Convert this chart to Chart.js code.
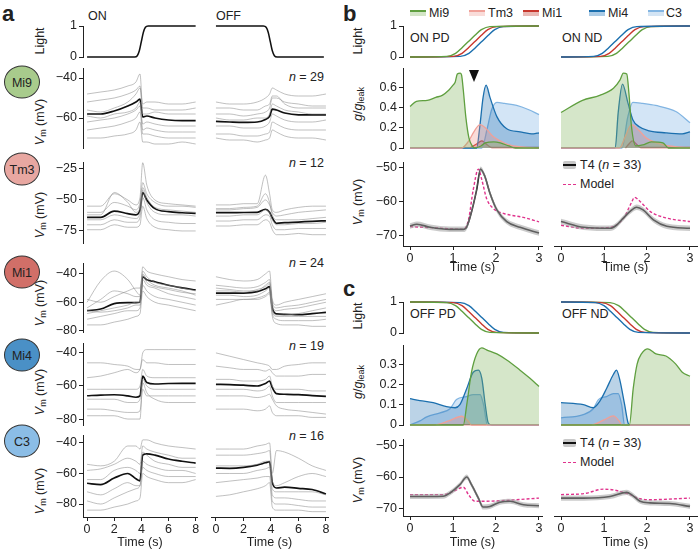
<!DOCTYPE html>
<html lang="en">
<head>
<meta charset="UTF-8" />
<title>T4 inputs</title>
<script src="https://cdn.jsdelivr.net/npm/chart.js"></script>
<style>
  body { margin: 0; background: #fff; font-family: 'Liberation Sans', Arial, sans-serif; color: #222; }
  #fig { position: relative; width: 698px; height: 551px; overflow: hidden; }
  #fig canvas { position: absolute; }
  .t { position: absolute; font-size: 12.5px; white-space: nowrap; transform: translateY(-50%); line-height: 1; }
  .r { transform: translate(-100%, -50%); }
  .rot { position: absolute; font-size: 12.5px; white-space: nowrap; transform: translate(-50%, -50%) rotate(-90deg); line-height: 1; }
  .letter { position: absolute; font-weight: bold; font-size: 22px; line-height: 1; }
  .cell { position: absolute; width: 36px; height: 33px; border: 1px solid #333; border-radius: 50%; box-sizing: border-box;
          display: flex; align-items: center; justify-content: center; font-size: 12.5px; transform: translate(-50%, -50%); }
  sub { font-size: 0.72em; vertical-align: -0.3em; line-height: 0; }
  .patch { position: absolute; width: 16px; height: 6px; box-sizing: border-box; border-top: 2px solid; }
  .band { position: absolute; width: 13px; height: 8px; background: #c8c8c8; border-radius: 2px; }
  .band::after { content: ""; position: absolute; left: 0; right: 0; top: 3px; height: 2px; background: #111; }
  .dash { position: absolute; width: 13px; border-top: 1.5px dashed #e0338d; }
  .arrow { position: absolute; width: 0; height: 0; border-left: 5px solid transparent; border-right: 5px solid transparent; border-top: 12px solid #111; }
</style>
</head>
<body>
<div id="fig">
  <div class="letter" style="left:2px;top:3px">a</div>
  <div class="letter" style="left:343px;top:3px">b</div>
  <div class="letter" style="left:343px;top:278px">c</div>

  <div class="t" style="left:88px;top:16px">ON</div>
  <div class="t" style="left:216px;top:16px">OFF</div>
  <div class="rot" style="left:40px;top:41px">Light</div>

  <div class="cell" style="left:22px;top:82px;background:#a8cb8c">Mi9</div>
  <div class="cell" style="left:22px;top:169px;background:#e8a7a1">Tm3</div>
  <div class="cell" style="left:22px;top:272px;background:#d16f68">Mi1</div>
  <div class="cell" style="left:22px;top:355px;background:#4a90c6">Mi4</div>
  <div class="cell" style="left:22px;top:441px;background:#8bbde6">C3</div>

  <div class="rot" style="left:40px;top:122px"><i>V</i><sub>m</sub> (mV)</div>
  <div class="rot" style="left:40px;top:215px"><i>V</i><sub>m</sub> (mV)</div>
  <div class="rot" style="left:40px;top:303px"><i>V</i><sub>m</sub> (mV)</div>
  <div class="rot" style="left:40px;top:392px"><i>V</i><sub>m</sub> (mV)</div>
  <div class="rot" style="left:40px;top:491px"><i>V</i><sub>m</sub> (mV)</div>

  <div class="t r" style="left:324px;top:77px"><i>n</i> = 29</div>
  <div class="t r" style="left:324px;top:163px"><i>n</i> = 12</div>
  <div class="t r" style="left:324px;top:263px"><i>n</i> = 24</div>
  <div class="t r" style="left:324px;top:346px"><i>n</i> = 19</div>
  <div class="t r" style="left:324px;top:436px"><i>n</i> = 16</div>

  <!-- legend of b/c -->
  <div class="patch" style="left:410px;top:10px;border-color:#5f9f3f;background:#d3e5c6"></div>
  <div class="t" style="left:429px;top:13px">Mi9</div>
  <div class="patch" style="left:469px;top:10px;border-color:#f0a098;background:#f9dcd9"></div>
  <div class="t" style="left:488px;top:13px">Tm3</div>
  <div class="patch" style="left:523px;top:10px;border-color:#c8372d;background:#eab9b4"></div>
  <div class="t" style="left:542px;top:13px">Mi1</div>
  <div class="patch" style="left:589px;top:10px;border-color:#1b6fae;background:#aacbe6"></div>
  <div class="t" style="left:608px;top:13px">Mi4</div>
  <div class="patch" style="left:648px;top:10px;border-color:#82b5e2;background:#d3e4f4"></div>
  <div class="t" style="left:666px;top:13px">C3</div>

  <div class="t" style="left:410px;top:38px">ON PD</div>
  <div class="t" style="left:562px;top:38px">ON ND</div>
  <div class="t" style="left:410px;top:314px">OFF PD</div>
  <div class="t" style="left:562px;top:314px">OFF ND</div>

  <div class="rot" style="left:358px;top:41px">Light</div>
  <div class="rot" style="left:358px;top:104px"><i>g</i>/<i>g</i><sub>leak</sub></div>
  <div class="rot" style="left:358px;top:202px"><i>V</i><sub>m</sub> (mV)</div>
  <div class="rot" style="left:358px;top:316px">Light</div>
  <div class="rot" style="left:358px;top:382px"><i>g</i>/<i>g</i><sub>leak</sub></div>
  <div class="rot" style="left:358px;top:480px"><i>V</i><sub>m</sub> (mV)</div>

  <div class="arrow" style="left:469px;top:70px"></div>

  <div class="band" style="left:563px;top:161px"></div>
  <div class="t" style="left:580px;top:165px">T4 (<i>n</i> = 33)</div>
  <div class="dash" style="left:563px;top:184px"></div>
  <div class="t" style="left:580px;top:184px">Model</div>
  <div class="band" style="left:563px;top:439px"></div>
  <div class="t" style="left:580px;top:443px">T4 (<i>n</i> = 33)</div>
  <div class="dash" style="left:563px;top:462px"></div>
  <div class="t" style="left:580px;top:462px">Model</div>
</div>

<script>
  // ---------- panel a : recordings (time in s, Vm in mV) ----------
  const timeA = [0, 1, 2, 3, 3.6, 3.9, 4.1, 4.4, 5, 6, 7, 8];

  const lightOnT = [0, 3.5, 3.7, 3.85, 4.0, 4.15, 4.3, 4.5, 8];
  const lightOn = [0, 0, 0.04, 0.2, 0.5, 0.8, 0.96, 1, 1];
  const lightOffT = [0, 3.45, 3.65, 3.8, 3.95, 4.1, 4.25, 4.45, 7.85];
  const lightOff = [1, 1, 0.96, 0.8, 0.5, 0.2, 0.04, 0, 0];

  const mi9OnMean = [-58, -58, -56.5, -54, -52, -50.6, -59.5, -59, -60, -61, -61.3, -61.3];
  const mi9OffMean = [-61.7, -62, -62.2, -62, -60.7, -59.2, -55.6, -56, -57.5, -58.4, -58.4, -58.4];
  const mi9OnGray = [
    [-48, -47, -46, -44, -42, -38, -55, -55, -56, -56, -56, -55],
    [-52, -51, -50, -48, -46, -44, -58, -58, -57, -58, -58, -58],
    [-62, -61, -60, -58, -56, -54, -63, -62, -63, -64, -64, -64],
    [-66, -65, -64, -62, -60, -57, -68, -68, -69, -70, -70, -70],
    [-70, -70, -69, -68, -66, -62, -72, -72, -73, -73, -72, -73],
    [-56, -57, -55, -52, -48, -45, -53, -52, -52, -53, -53, -52],
    [-59, -60, -58, -57, -55, -52, -66, -65, -66, -67, -67, -67]
  ];
  const mi9OffGray = [
    [-52, -53, -53, -52, -50, -48, -45, -46, -48, -49, -49, -48],
    [-58, -58, -59, -58, -57, -55, -50, -50, -52, -53, -54, -54],
    [-64, -64, -65, -65, -64, -62, -58, -59, -61, -62, -62, -61],
    [-68, -68, -69, -69, -68, -67, -62, -63, -65, -66, -66, -66],
    [-70, -71, -71, -72, -71, -70, -66, -67, -69, -70, -70, -71],
    [-55, -55, -56, -56, -54, -53, -49, -49, -53, -55, -55, -55],
    [-60, -61, -61, -60, -60, -58, -53, -54, -56, -57, -58, -58]
  ];

  const tm3OnMean = [-64, -64, -59, -61, -62, -58, -44, -50, -57, -59.4, -60.3, -60.8];
  const tm3OffMean = [-60.2, -60.2, -60.1, -60, -57.5, -60, -64.5, -68.8, -68.3, -67.8, -67.2, -66.8];
  const tm3OnGray = [
    [-55, -55, -45, -50, -54, -48, -20, -38, -50, -53, -54, -55],
    [-60, -60, -52, -55, -58, -52, -36, -45, -52, -55, -55, -56],
    [-66, -66, -62, -64, -65, -60, -42, -52, -60, -62, -62, -63],
    [-70, -70, -66, -68, -68, -64, -48, -58, -66, -68, -69, -69],
    [-74, -74, -70, -72, -72, -70, -55, -65, -72, -74, -75, -75],
    [-62, -62, -44, -52, -60, -56, -40, -48, -56, -58, -59, -60]
  ];
  const tm3OffGray = [
    [-54, -54, -53, -53, -30, -45, -58, -60, -58, -56, -55, -55],
    [-58, -58, -57, -56, -50, -54, -60, -63, -62, -60, -59, -58],
    [-63, -63, -62, -62, -58, -60, -66, -70, -70, -69, -69, -68],
    [-67, -67, -66, -66, -62, -63, -70, -74, -74, -73, -73, -73],
    [-71, -71, -70, -70, -66, -68, -74, -78, -78, -77, -78, -78],
    [-57, -57, -56, -55, -45, -52, -62, -66, -66, -66, -65, -64]
  ];

  const mi1OnMean = [-65.9, -64.8, -61, -60.3, -60.3, -60, -42, -44.2, -45.5, -48, -49.8, -51.3];
  const mi1OffMean = [-53.6, -53.6, -53.5, -52.5, -50.5, -49, -64, -68.2, -68.5, -68.8, -68, -67.2];
  const mi1OnGray = [
    [-60, -45, -38, -44, -52, -55, -35, -38, -40, -42, -44, -45],
    [-64, -58, -52, -54, -56, -56, -38, -42, -46, -48, -50, -52],
    [-68, -66, -64, -62, -60, -60, -44, -48, -50, -54, -56, -58],
    [-72, -70, -68, -66, -66, -64, -48, -52, -56, -58, -60, -62],
    [-76, -76, -74, -72, -70, -68, -52, -56, -60, -62, -64, -66],
    [-58, -60, -56, -52, -50, -50, -40, -44, -48, -50, -52, -55],
    [-66, -67, -66, -64, -62, -62, -41, -46, -49, -51, -53, -54]
  ];
  const mi1OffGray = [
    [-42, -44, -45, -44, -40, -38, -58, -62, -60, -58, -56, -54],
    [-48, -49, -50, -49, -46, -44, -62, -66, -65, -64, -62, -60],
    [-55, -55, -56, -55, -52, -50, -66, -70, -70, -70, -70, -70],
    [-58, -58, -58, -57, -55, -53, -68, -72, -73, -73, -73, -72],
    [-62, -60, -58, -58, -56, -54, -70, -75, -76, -76, -77, -77],
    [-50, -51, -52, -52, -48, -46, -60, -64, -63, -62, -60, -58],
    [-52, -52, -53, -51, -49, -47, -64, -69, -69, -68, -66, -64]
  ];

  const mi4OnMean = [-65.9, -65.5, -65.3, -66, -66.8, -66, -54, -57.9, -58.8, -58.5, -58.4, -58.4];
  const mi4OffMean = [-59, -59.2, -59.5, -60, -58.5, -57, -61, -64.6, -65, -65.2, -65.8, -66.3];
  const mi4OnGray = [
    [-46, -46, -47, -48, -50, -50, -40, -38, -38, -38, -38, -38],
    [-55, -54, -52, -50, -52, -50, -44, -46, -46, -47, -47, -47],
    [-62, -62, -62, -62, -62, -60, -50, -54, -55, -55, -55, -55],
    [-68, -68, -68, -70, -70, -68, -56, -60, -62, -62, -62, -62],
    [-74, -74, -75, -76, -76, -75, -62, -66, -66, -66, -66, -66],
    [-78, -78, -78, -80, -80, -80, -58, -64, -68, -70, -70, -70]
  ];
  const mi4OffGray = [
    [-40, -42, -44, -46, -47, -48, -50, -50, -48, -47, -46, -46],
    [-48, -49, -50, -50, -51, -50, -52, -54, -54, -54, -53, -53],
    [-56, -56, -57, -57, -56, -54, -60, -62, -62, -62, -63, -63],
    [-62, -62, -62, -63, -62, -60, -66, -70, -70, -70, -70, -70],
    [-66, -66, -66, -67, -66, -65, -68, -72, -74, -75, -76, -77],
    [-74, -74, -74, -75, -74, -72, -76, -78, -78, -78, -79, -79]
  ];

  const c3OnMean = [-66.4, -67.3, -63, -60, -63.5, -64.8, -48, -47.2, -48, -50.5, -52, -53.2];
  const c3OffMean = [-56.5, -56.6, -56, -54.5, -53, -52.3, -66, -69.5, -69, -69.7, -70.5, -73.4];
  const c3OnGray = [
    [-54, -55, -52, -42, -42, -44, -38, -38, -40, -42, -43, -44],
    [-58, -57, -54, -50, -52, -54, -42, -44, -46, -48, -50, -50],
    [-64, -64, -58, -56, -58, -60, -46, -48, -52, -54, -56, -56],
    [-72, -74, -70, -66, -68, -68, -52, -54, -56, -58, -58, -60],
    [-78, -80, -76, -72, -70, -68, -56, -58, -60, -62, -62, -62],
    [-84, -84, -82, -80, -78, -76, -60, -62, -64, -66, -66, -64]
  ];
  const c3OffGray = [
    [-44, -44, -44, -42, -41, -40, -60, -45, -46, -50, -55, -58],
    [-48, -48, -48, -47, -46, -45, -65, -68, -66, -62, -60, -62],
    [-55, -55, -55, -54, -52, -52, -70, -72, -72, -72, -72, -74],
    [-60, -60, -60, -58, -57, -56, -74, -76, -76, -77, -78, -78],
    [-66, -65, -64, -63, -62, -62, -78, -80, -80, -81, -82, -82],
    [-75, -74, -72, -70, -68, -66, -82, -84, -84, -84, -85, -85]
  ];

  // ---------- panels b, c : light at each input ----------
  const lightRise = [0, 0.02, 0.12, 0.3, 0.5, 0.7, 0.88, 0.98, 1];
  const lightFall = [1, 0.98, 0.88, 0.7, 0.5, 0.3, 0.12, 0.02, 0];
  const pdGreenT = [0, 0.86, 1.06, 1.21, 1.36, 1.51, 1.66, 1.86, 3];
  const pdRedT = [0, 1.01, 1.21, 1.36, 1.51, 1.66, 1.81, 2.01, 3];
  const pdBlueT = [0, 1.17, 1.37, 1.52, 1.67, 1.82, 1.97, 2.17, 3];
  const onNdBlueT = [0, 0.76, 0.96, 1.11, 1.26, 1.41, 1.56, 1.76, 3];
  const onNdRedT = [0, 0.92, 1.12, 1.27, 1.42, 1.57, 1.72, 1.92, 3];
  const onNdGreenT = [0, 1.09, 1.29, 1.44, 1.59, 1.74, 1.89, 2.09, 3];
  const offNdBlueT = [0, 0.8, 1.0, 1.15, 1.3, 1.45, 1.6, 1.8, 3];
  const offNdRedT = [0, 0.95, 1.15, 1.3, 1.45, 1.6, 1.75, 1.95, 3];
  const offNdGreenT = [0, 1.14, 1.34, 1.49, 1.64, 1.79, 1.94, 2.14, 3];

  // ---------- conductances g/gleak ----------
  const onPdMi9T = [0, 0.15, 0.4, 0.6, 0.75, 0.9, 1.0, 1.05, 1.1, 1.17, 1.2, 1.24, 1.3, 1.37, 1.45, 1.5, 1.65, 1.75, 1.95, 2.1, 2.3, 2.45, 3];
  const onPdMi9 = [0.41, 0.46, 0.47, 0.5, 0.52, 0.57, 0.62, 0.65, 0.73, 0.74, 0.72, 0.57, 0.3, 0.1, 0.02, 0, 0.02, 0.05, 0.06, 0.05, 0.02, 0, 0];
  const onPdTm3T = [0, 1.2, 1.35, 1.5, 1.63, 1.75, 1.94, 2.1, 2.3, 2.6, 3];
  const onPdTm3 = [0, 0, 0.06, 0.17, 0.23, 0.2, 0.11, 0.07, 0.03, 0.01, 0];
  const onPdMi1T = [1.4, 1.55, 1.67, 1.8, 1.9, 3];
  const onPdMi1 = [0, 0.04, 0.07, 0.03, 0.005, 0.005];
  const onPdMi4T = [0, 1.55, 1.62, 1.7, 1.77, 1.86, 2.02, 2.25, 2.56, 2.87, 3];
  const onPdMi4 = [0, 0, 0.2, 0.5, 0.62, 0.5, 0.31, 0.19, 0.16, 0.14, 0.15];
  const onPdC3T = [0, 1.67, 1.8, 1.9, 2.02, 2.2, 2.48, 2.75, 3];
  const onPdC3 = [0, 0, 0.2, 0.38, 0.45, 0.44, 0.42, 0.38, 0.33];

  const onNdMi9T = [0, 0.5, 0.9, 1.22, 1.37, 1.45, 1.53, 1.58, 1.64, 1.74, 1.9, 2.1, 2.37, 2.5, 3];
  const onNdMi9 = [0.35, 0.47, 0.52, 0.59, 0.67, 0.74, 0.73, 0.54, 0.21, 0.02, 0.03, 0.06, 0.05, 0, 0];
  const onNdTm3T = [0, 1.36, 1.5, 1.64, 1.8, 1.98, 2.3, 2.7, 3];
  const onNdTm3 = [0, 0, 0.12, 0.23, 0.18, 0.1, 0.04, 0.01, 0.005];
  const onNdMi1T = [1.5, 1.58, 1.66, 1.75, 1.85, 3];
  const onNdMi1 = [0, 0.04, 0.07, 0.04, 0.005, 0.005];
  const onNdMi4T = [0, 1.26, 1.33, 1.43, 1.56, 1.67, 1.82, 2.05, 2.44, 2.82, 3];
  const onNdMi4 = [0, 0, 0.35, 0.63, 0.44, 0.28, 0.21, 0.17, 0.15, 0.14, 0.16];
  const onNdC3T = [0, 1.42, 1.55, 1.67, 1.9, 2.2, 2.67, 3];
  const onNdC3 = [0, 0, 0.3, 0.45, 0.44, 0.42, 0.36, 0.25];

  const offPdMi9T = [0, 1.24, 1.32, 1.43, 1.55, 1.67, 1.78, 2.02, 2.25, 2.56, 2.79, 3];
  const offPdMi9 = [0, 0, 0.1, 0.26, 0.35, 0.38, 0.37, 0.35, 0.32, 0.27, 0.23, 0.19];
  const offPdTm3T = [0, 0.54, 0.9, 1.2, 1.35, 1.43, 3];
  const offPdTm3 = [0, 0, 0.02, 0.043, 0.02, 0, 0];
  const offPdMi1T = [0.23, 1.78];
  const offPdMi1 = [0.002, 0.002];
  const offPdMi4T = [0, 0.23, 0.54, 0.85, 1.05, 1.16, 1.32, 1.47, 1.59, 1.67, 1.75, 1.82, 1.9, 3];
  const offPdMi4 = [0.13, 0.12, 0.11, 0.09, 0.085, 0.1, 0.18, 0.26, 0.27, 0.23, 0.1, 0.01, 0, 0];
  const offPdC3T = [0, 0.23, 0.39, 0.7, 0.93, 1.08, 1.32, 1.47, 1.63, 1.71, 1.8, 3];
  const offPdC3 = [0, 0.02, 0.04, 0.06, 0.08, 0.125, 0.14, 0.15, 0.15, 0.1, 0, 0];

  const offNdMi9T = [0, 1.59, 1.68, 1.77, 1.87, 2.02, 2.21, 2.44, 2.67, 2.82, 3];
  const offNdMi9 = [0, 0, 0.18, 0.3, 0.35, 0.375, 0.35, 0.34, 0.3, 0.26, 0.24];
  const offNdTm3T = [0, 0.7, 1.0, 1.22, 1.35, 1.42, 3];
  const offNdTm3 = [0, 0, 0.025, 0.045, 0.02, 0, 0];
  const offNdMi1T = [0, 1.45];
  const offNdMi1 = [0.002, 0.002];
  const offNdMi4T = [0, 0.52, 0.75, 0.91, 1.06, 1.22, 1.29, 1.37, 1.48, 1.56, 1.6, 3];
  const offNdMi4 = [0.11, 0.1, 0.085, 0.12, 0.18, 0.25, 0.27, 0.22, 0.1, 0.01, 0, 0];
  const offNdC3T = [0, 0.5, 0.75, 0.87, 1.06, 1.22, 1.33, 1.41, 1.48, 3];
  const offNdC3 = [0.035, 0.05, 0.08, 0.125, 0.14, 0.155, 0.155, 0.1, 0, 0];

  // ---------- T4 recordings and model ----------
  const t4Sem = 0.8;
  const onPdT4T = [0, 0.16, 0.47, 0.93, 1.24, 1.3, 1.4, 1.55, 1.64, 1.74, 1.86, 2.02, 2.25, 2.56, 3];
  const onPdT4 = [-67.3, -66.8, -67.7, -68.3, -68.3, -68, -64.6, -56.7, -50.6, -52.7, -57.7, -62.6, -66, -67.7, -69.4];
  const onPdModelT = [0, 0.5, 1.0, 1.24, 1.36, 1.47, 1.59, 1.67, 1.78, 1.94, 2.17, 2.64, 3];
  const onPdModel = [-67.5, -67.8, -68.2, -68.3, -65.5, -56.7, -50.6, -53.7, -59.2, -62.2, -63.6, -64.8, -66.1];
  const onNdT4T = [0, 0.53, 1.14, 1.29, 1.45, 1.6, 1.76, 1.91, 2.15, 2.46, 3];
  const onNdT4 = [-66, -67.7, -68, -67.1, -65, -63.1, -61.8, -62.6, -65.5, -67.4, -68];
  const onNdModelT = [0, 0.53, 1.14, 1.45, 1.64, 1.71, 1.84, 2.07, 2.46, 3];
  const onNdModel = [-67.1, -68, -67.7, -65.1, -60.4, -58.9, -60.1, -63, -65, -66];

  const offPdT4T = [0, 0.77, 0.93, 1.16, 1.32, 1.43, 1.59, 1.7, 1.86, 2.09, 2.33, 2.64, 3];
  const offPdT4 = [-66.1, -66, -65, -62.4, -60, -62.4, -66.6, -69.4, -69.2, -67.9, -67.6, -68.7, -69];
  const offPdModelT = [0, 0.77, 1.01, 1.24, 1.36, 1.51, 2.0, 2.48, 3];
  const offPdModel = [-65.5, -65.5, -64.5, -63.2, -65.5, -67.6, -67.5, -67.1, -66.6];
  const offNdT4T = [0, 0.53, 1.14, 1.53, 1.64, 1.84, 2.07, 2.53, 3];
  const offNdT4 = [-66.6, -66.6, -66.1, -64.8, -65.5, -67.6, -68.1, -68.3, -69.2];
  const offNdModelT = [0, 0.53, 0.99, 1.29, 1.6, 1.84, 2.07, 3];
  const offNdModel = [-65.5, -65.2, -63.8, -64.2, -65.5, -66.8, -67.1, -66.6];

  // ---------- drawing ----------
  const PAD = 12;
  const INK = '#222';
  const FONT = { family: "'Liberation Sans', Arial, sans-serif", size: 12.5 };
  const GREEN = '#5f9f3f', RED = '#c8372d', BLUE = '#1b6fae';
  const fmt = v => (v < 0 ? '\u2212' + Math.abs(v) : String(v));

  function line(t, v, color, width, extra) {
    return Object.assign({
      data: t.map((x, i) => ({ x: x, y: v[i] })),
      borderColor: color, borderWidth: width, pointRadius: 0, fill: false,
      cubicInterpolationMode: 'monotone', clip: 3
    }, extra || {});
  }

  function area(t, v, color, fillColor) {
    return line(t, v, color, 1.3, { fill: 'origin', backgroundColor: fillColor });
  }

  function traces(mean, grays) {
    const sets = grays.map(g => line(timeA, g, 'rgba(140,140,140,0.55)', 1));
    sets.push(line(timeA, mean, '#111', 1.7));
    return sets;
  }

  function t4Sets(t, v, mt, mv) {
    return [
      line(t, v.map(y => y + t4Sem), 'rgba(0,0,0,0)', 0),
      line(t, v.map(y => y - t4Sem), 'rgba(0,0,0,0)', 0, { fill: '-1', backgroundColor: 'rgba(160,160,160,0.55)' }),
      line(t, v, '#111', 1.6),
      line(mt, mv, '#e0338d', 1.4, { borderDash: [3, 2] })
    ];
  }

  function axis(show, ticks, size, horizontal, title) {
    const a = {
      type: 'linear', display: show,
      grid: { display: true, drawOnChartArea: false, drawTicks: true, tickLength: 4, color: INK, lineWidth: 1 },
      border: { display: true, color: INK, width: 1 },
      ticks: { font: FONT, color: INK, padding: horizontal ? 1 : 2, autoSkip: false, maxRotation: 0, callback: fmt },
      afterBuildTicks: s => { s.ticks = (ticks || []).map(v => ({ value: v })); },
      afterFit: s => { if (horizontal) s.height = size; else s.width = size; }
    };
    if (title) a.title = { display: true, text: title, font: FONT, color: INK, padding: 0 };
    return a;
  }

  function plot(box, o) {
    const yW = o.yTicks ? 40 : 0;
    const xH = o.xTicks ? o.xH : 0;
    const w = box.r - box.l + yW + 2 * PAD;
    const h = box.b - box.t + xH + 2 * PAD;
    const cv = document.createElement('canvas');
    cv.width = w; cv.height = h;
    Object.assign(cv.style, { left: (box.l - yW - PAD) + 'px', top: (box.t - PAD) + 'px', width: w + 'px', height: h + 'px' });
    document.getElementById('fig').appendChild(cv);
    const x = axis(!!o.xTicks, o.xTicks, xH, true, o.xTicks ? 'Time (s)' : null);
    x.min = o.xMin; x.max = o.xMax;
    const y = axis(!!o.yTicks, o.yTicks, yW, false);
    y.min = o.yMin; y.max = o.yMax;
    new Chart(cv, {
      type: 'line',
      data: { datasets: o.datasets },
      options: {
        responsive: false, animation: false, devicePixelRatio: 1,
        layout: { padding: PAD },
        plugins: { legend: { display: false }, tooltip: { enabled: false } },
        scales: { x: x, y: y }
      }
    });
  }

  // panel a
  const aOn = { l: 83, r: 197, xMin: -0.3, xMax: 8.1 };
  const aOff = { l: 211, r: 328, xMin: -0.36, xMax: 8.15 };
  const rowsA = [
    { t: 68, b: 148, yMin: -75, yMax: -35, ticks: [-40, -60], on: [mi9OnMean, mi9OnGray], off: [mi9OffMean, mi9OffGray] },
    { t: 162, b: 243, yMin: -84.7, yMax: -19.4, ticks: [-25, -50, -75], on: [tm3OnMean, tm3OnGray], off: [tm3OffMean, tm3OffGray] },
    { t: 263, b: 332, yMin: -81, yMax: -32.3, ticks: [-40, -60, -80], on: [mi1OnMean, mi1OnGray], off: [mi1OffMean, mi1OffGray] },
    { t: 343, b: 425, yMin: -83.6, yMax: -34, ticks: [-40, -60, -80], on: [mi4OnMean, mi4OnGray], off: [mi4OffMean, mi4OffGray] },
    { t: 435, b: 517, yMin: -88.5, yMax: -34.8, ticks: [-40, -60, -80], on: [c3OnMean, c3OnGray], off: [c3OffMean, c3OffGray], last: true }
  ];

  plot({ l: aOn.l, r: aOn.r, t: 26, b: 57 }, { xMin: aOn.xMin, xMax: aOn.xMax, yMin: 0, yMax: 1, yTicks: [0, 1],
    datasets: [line(lightOnT, lightOn, '#111', 1.5)] });
  plot({ l: aOff.l, r: aOff.r, t: 26, b: 57 }, { xMin: aOff.xMin, xMax: aOff.xMax, yMin: 0, yMax: 1,
    datasets: [line(lightOffT, lightOff, '#111', 1.5)] });

  rowsA.forEach(row => {
    plot({ l: aOn.l, r: aOn.r, t: row.t, b: row.b }, {
      xMin: aOn.xMin, xMax: aOn.xMax, yMin: row.yMin, yMax: row.yMax, yTicks: row.ticks,
      xTicks: row.last ? [0, 2, 4, 6, 8] : null, xH: 33,
      datasets: traces(row.on[0], row.on[1])
    });
    plot({ l: aOff.l, r: aOff.r, t: row.t, b: row.b }, {
      xMin: aOff.xMin, xMax: aOff.xMax, yMin: row.yMin, yMax: row.yMax,
      xTicks: row.last ? [0, 2, 4, 6, 8] : null, xH: 33,
      datasets: traces(row.off[0], row.off[1])
    });
  });

  // panels b and c
  const pd = { l: 403, r: 542, xMin: -0.163, xMax: 3.07 };
  const nd = { l: 554, r: 697, xMin: -0.163, xMax: 3.163 };

  function gSets(m9t, m9, tmt, tm, m4t, m4, c3t, c3, m1t, m1) {
    return [
      area(m9t, m9, GREEN, 'rgba(127,179,90,0.33)'),
      area(tmt, tm, '#f0a098', 'rgba(240,140,130,0.3)'),
      area(m4t, m4, BLUE, 'rgba(30,110,175,0.3)'),
      area(c3t, c3, '#82b5e2', 'rgba(110,170,225,0.3)'),
      area(m1t, m1, RED, 'rgba(200,50,45,0.3)')
    ];
  }

  const blocks = [
    { top: [26, 57], g: [68, 148, 0.79, [0, 0.2, 0.4, 0.6]], v: [162, 246, -73.2, -48.5], xH: 29,
      pdLight: [line(pdGreenT, lightRise, GREEN, 1.4), line(pdRedT, lightRise, RED, 1.4), line(pdBlueT, lightRise, BLUE, 1.4)],
      ndLight: [line(onNdBlueT, lightRise, BLUE, 1.4), line(onNdRedT, lightRise, RED, 1.4), line(onNdGreenT, lightRise, GREEN, 1.4)],
      pdG: gSets(onPdMi9T, onPdMi9, onPdTm3T, onPdTm3, onPdMi4T, onPdMi4, onPdC3T, onPdC3, onPdMi1T, onPdMi1),
      ndG: gSets(onNdMi9T, onNdMi9, onNdTm3T, onNdTm3, onNdMi4T, onNdMi4, onNdC3T, onNdC3, onNdMi1T, onNdMi1),
      pdV: t4Sets(onPdT4T, onPdT4, onPdModelT, onPdModel),
      ndV: t4Sets(onNdT4T, onNdT4, onNdModelT, onNdModel) },
    { top: [301.5, 332.5], g: [345, 425, 0.394, [0, 0.1, 0.2, 0.3]], v: [439, 516, -72.2, -48.1], xH: 34,
      pdLight: [line(pdGreenT, lightFall, GREEN, 1.4), line(pdRedT, lightFall, RED, 1.4), line(pdBlueT, lightFall, BLUE, 1.4)],
      ndLight: [line(offNdBlueT, lightFall, BLUE, 1.4), line(offNdRedT, lightFall, RED, 1.4), line(offNdGreenT, lightFall, GREEN, 1.4)],
      pdG: gSets(offPdMi9T, offPdMi9, offPdTm3T, offPdTm3, offPdMi4T, offPdMi4, offPdC3T, offPdC3, offPdMi1T, offPdMi1),
      ndG: gSets(offNdMi9T, offNdMi9, offNdTm3T, offNdTm3, offNdMi4T, offNdMi4, offNdC3T, offNdC3, offNdMi1T, offNdMi1),
      pdV: t4Sets(offPdT4T, offPdT4, offPdModelT, offPdModel),
      ndV: t4Sets(offNdT4T, offNdT4, offNdModelT, offNdModel) }
  ];

  blocks.forEach(bk => {
    [[pd, true], [nd, false]].forEach(([col, first]) => {
      plot({ l: col.l, r: col.r, t: bk.top[0], b: bk.top[1] }, {
        xMin: col.xMin, xMax: col.xMax, yMin: 0, yMax: 1, yTicks: first ? [0, 1] : null,
        datasets: first ? bk.pdLight : bk.ndLight
      });
      plot({ l: col.l, r: col.r, t: bk.g[0], b: bk.g[1] }, {
        xMin: col.xMin, xMax: col.xMax, yMin: 0, yMax: bk.g[2], yTicks: first ? bk.g[3] : null,
        datasets: first ? bk.pdG : bk.ndG
      });
      plot({ l: col.l, r: col.r, t: bk.v[0], b: bk.v[1] }, {
        xMin: col.xMin, xMax: col.xMax, yMin: bk.v[2], yMax: bk.v[3], yTicks: first ? [-50, -60, -70] : null,
        xTicks: [0, 1, 2, 3], xH: bk.xH,
        datasets: first ? bk.pdV : bk.ndV
      });
    });
  });
</script>
</body>
</html>
